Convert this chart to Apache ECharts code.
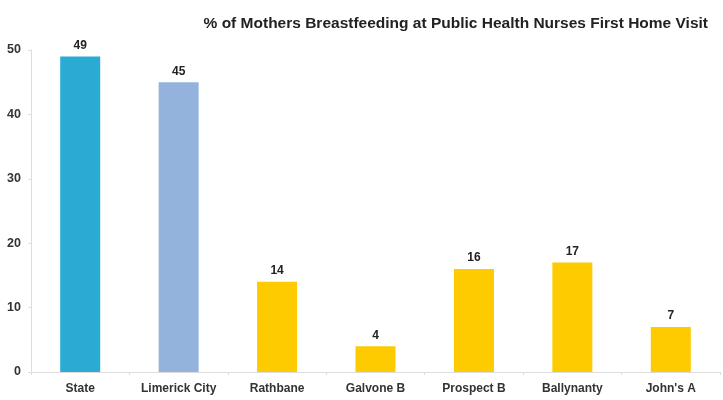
<!DOCTYPE html>
<html>
<head>
<meta charset="utf-8">
<script src="https://cdn.jsdelivr.net/npm/echarts@6/dist/echarts.min.js"></script>
<style>
  html, body { margin: 0; padding: 0; background: #fff; }
  #chart_001 { width: 723px; height: 400px; }
</style>
</head>
<body>
<div id="chart_001"></div>
<script>
var categories = ['State', 'Limerick City', 'Rathbane', 'Galvone B', 'Prospect B', 'Ballynanty', "John's A"];
var values = [49, 45, 14, 4, 16, 17, 7];
var barColors = ['#29abd4', '#93b3dd', '#fecb00', '#fecb00', '#fecb00', '#fecb00', '#fecb00'];
var yTicks = [0, 10, 20, 30, 40, 50];

var myChart = echarts.init(document.getElementById('chart_001'));

var option = {
    backgroundColor: '#fff',
    textStyle: { fontFamily: 'Liberation Sans, Arial, sans-serif' },
    title: {
        text: '% of Mothers Breastfeeding at Public Health Nurses First Home Visit',
        right: 10,
        top: 11,
        textStyle: { fontSize: 15.5, fontWeight: 'bold', color: '#222' }
    },
    grid: { left: 31, right: 3, top: 50, bottom: 28 },
    xAxis: {
        type: 'category',
        data: categories,
        axisLine: { lineStyle: { color: '#ddd' } },
        axisTick: { show: true, alignWithLabel: false, length: 3, lineStyle: { color: '#ddd' } },
        axisLabel: { color: '#333', fontSize: 12, fontWeight: 'bold', margin: 11, interval: 0 }
    },
    yAxis: {
        type: 'value',
        min: yTicks[0],
        max: yTicks[yTicks.length - 1],
        interval: 10,
        axisLine: { show: true, lineStyle: { color: '#ddd' } },
        axisTick: { show: true, length: 3, lineStyle: { color: '#ddd' } },
        splitLine: { show: false },
        axisLabel: { color: '#333', fontSize: 12.5, fontWeight: 'bold', margin: 10 }
    },
    series: [{
        type: 'bar',
        barWidth: 40,
        data: values.map(function (v, i) {
            return { value: v, itemStyle: { color: barColors[i] } };
        }),
        label: {
            show: true,
            position: 'top',
            distance: 5,
            color: '#222',
            fontSize: 12,
            fontWeight: 'bold'
        }
    }]
};

myChart.setOption(option);
</script>
</body>
</html>
